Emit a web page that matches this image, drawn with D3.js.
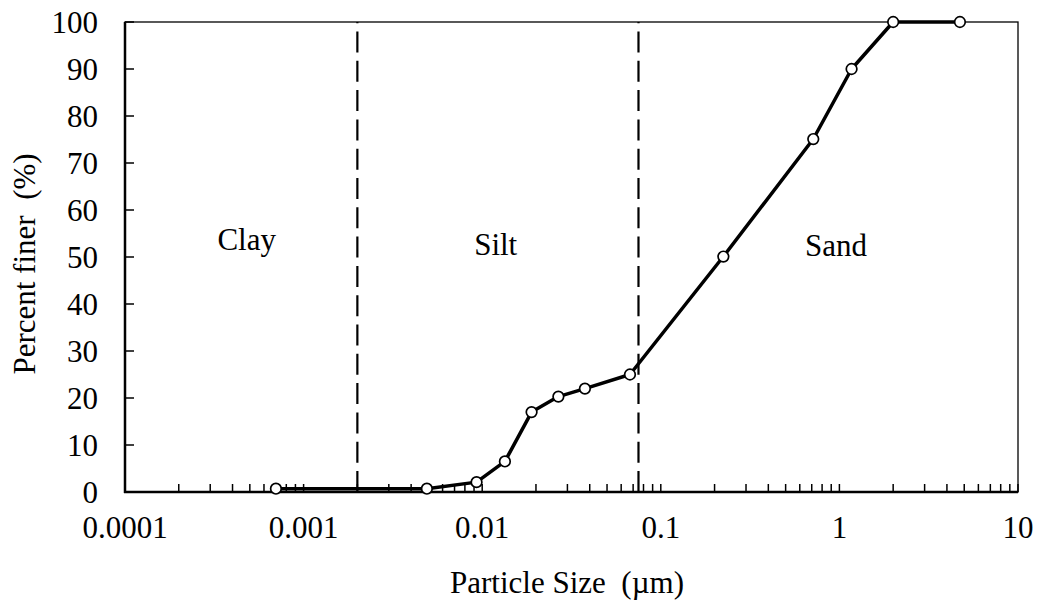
<!DOCTYPE html>
<html>
<head>
<meta charset="utf-8">
<script src="https://cdn.jsdelivr.net/npm/d3@7"></script>
<style>
  html, body { margin: 0; padding: 0; background: #fff; }
  svg { display: block; }
  text { font-family: "Liberation Serif", "Times New Roman", serif; fill: #000; }
</style>
</head>
<body>
<svg id="chart" width="1040" height="608"></svg>
<script>
// ---- data ----
const particleSize = [0.0007, 0.0049, 0.0093, 0.0134, 0.0189, 0.0267, 0.0376, 0.0672, 0.224, 0.714, 1.17, 2.0, 4.73];
const percentFiner = [0.7, 0.7, 2.1, 6.5, 17.0, 20.3, 22.0, 25.0, 50.1, 75.1, 90.0, 100, 100];
const boundaries = [0.002, 0.075];
const zoneNames = ["Clay", "Silt", "Sand"];
const zoneCenters = [0.00048, 0.0119, 0.957];
const zoneLevels = [51.5, 50.5, 50.3];
const xTickValues = [0.0001, 0.001, 0.01, 0.1, 1, 10];
const xTickLabels = ["0.0001", "0.001", "0.01", "0.1", "1", "10"];
const yTickValues = [0, 10, 20, 30, 40, 50, 60, 70, 80, 90, 100];

// ---- layout ----
const L = 125, R = 1018, T = 22, B = 492;
const FS = 31;
const svg = d3.select("#chart");
const x = d3.scaleLog().domain([1e-4, 10]).range([L, R]);
const y = d3.scaleLinear().domain([0, 100]).range([B, T]);

// plot border
svg.append("rect").attr("x", L).attr("y", T).attr("width", R - L).attr("height", B - T)
  .attr("fill", "none").attr("stroke", "#000").attr("stroke-width", 1.3);

// minor/major x ticks (inside)
const xTicks = [];
for (let e = -4; e < 1; e++) for (let m = 1; m <= 9; m++) xTicks.push(m * Math.pow(10, e));
xTicks.push(10);
svg.append("g").selectAll("line").data(xTicks).join("line")
  .attr("x1", d => x(d)).attr("x2", d => x(d))
  .attr("y1", B).attr("y2", B - 8)
  .attr("stroke", "#000").attr("stroke-width", 1.5);

// y ticks (inside)
svg.append("g").selectAll("line").data(yTickValues).join("line")
  .attr("x1", L).attr("x2", L + 9)
  .attr("y1", d => y(d)).attr("y2", d => y(d))
  .attr("stroke", "#000").attr("stroke-width", 1.5);

// axis lines
svg.append("line").attr("x1", L).attr("x2", L).attr("y1", T).attr("y2", B + 1)
  .attr("stroke", "#000").attr("stroke-width", 2.5);
svg.append("line").attr("x1", L - 1).attr("x2", R).attr("y1", B).attr("y2", B)
  .attr("stroke", "#000").attr("stroke-width", 2.5);

// tick labels
svg.append("g").selectAll("text").data(xTickValues).join("text")
  .attr("x", d => x(d)).attr("y", 538)
  .attr("text-anchor", "middle").attr("font-size", FS)
  .text((d, i) => xTickLabels[i]);
svg.append("g").selectAll("text").data(yTickValues).join("text")
  .attr("x", 98).attr("y", d => y(d)).attr("dy", "0.35em")
  .attr("text-anchor", "end").attr("font-size", FS)
  .text(d => d);

// boundary dashed lines
svg.append("g").selectAll("line").data(boundaries).join("line")
  .attr("x1", d => x(d)).attr("x2", d => x(d))
  .attr("y1", B).attr("y2", T)
  .attr("stroke", "#000").attr("stroke-width", 2.2)
  .attr("stroke-dasharray", "21,8.3");

// zone labels
svg.append("g").selectAll("text").data(zoneNames).join("text")
  .attr("x", (d, i) => x(zoneCenters[i])).attr("y", (d, i) => y(zoneLevels[i]))
  .attr("text-anchor", "middle").attr("font-size", FS)
  .text(d => d);

// data line
const pts = particleSize.map((s, i) => [s, percentFiner[i]]);
svg.append("path").datum(pts)
  .attr("d", d3.line().x(d => x(d[0])).y(d => y(d[1])))
  .attr("fill", "none").attr("stroke", "#000").attr("stroke-width", 3.5)
  .attr("stroke-linejoin", "round");
svg.append("g").selectAll("circle").data(pts).join("circle")
  .attr("cx", d => x(d[0])).attr("cy", d => y(d[1])).attr("r", 5.3)
  .attr("fill", "#fff").attr("stroke", "#000").attr("stroke-width", 1.7);

// axis titles
svg.append("text").attr("x", 567).attr("y", 593)
  .attr("text-anchor", "middle").attr("font-size", FS)
  .style("white-space", "pre").text("Particle Size  (\u00b5m)");
svg.append("text").attr("transform", "translate(35,264) rotate(-90)")
  .attr("text-anchor", "middle").attr("font-size", FS)
  .style("white-space", "pre").text("Percent finer  (%)");
</script>
</body>
</html>
